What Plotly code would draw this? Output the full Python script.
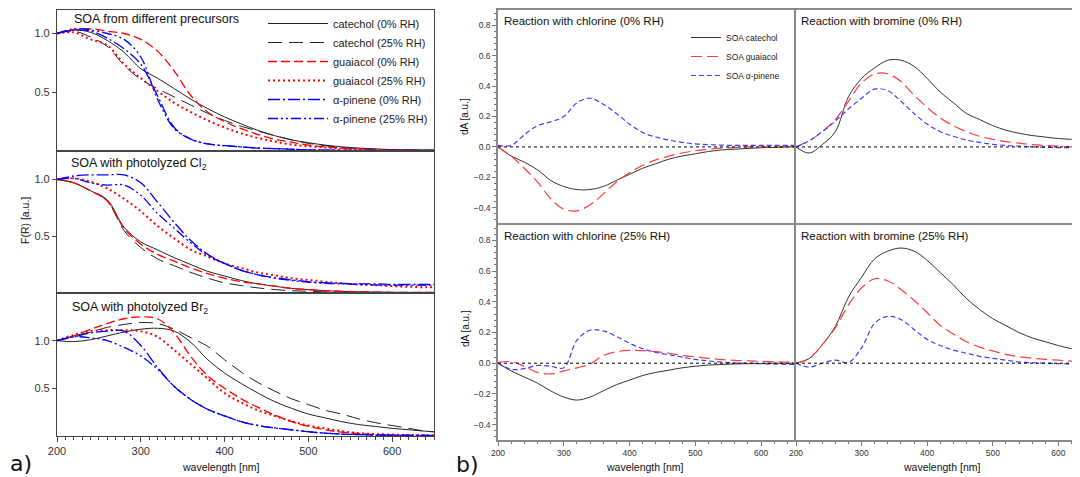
import plotly.graph_objects as go

# wavelength grid [nm]
wl = list(range(200, 661, 20))

# --- panel a: F(R) [a.u.] ---
names_a = ["catechol (0% RH)", "catechol (25% RH)", "guaiacol (0% RH)",
           "guaiacol (25% RH)", "α-pinene (0% RH)", "α-pinene (25% RH)"]

# SOA from different precursors
a1_cat0 = [1.00, 1.03, 1.01, 0.94, 0.84, 0.70, 0.62, 0.53, 0.44, 0.36, 0.29, 0.23, 0.175, 0.13, 0.095, 0.07, 0.05, 0.035, 0.025, 0.018, 0.012, 0.01, 0.008, 0.008]
a1_cat25 = [1.00, 1.02, 0.97, 0.89, 0.73, 0.61, 0.53, 0.46, 0.39, 0.32, 0.26, 0.21, 0.17, 0.13, 0.095, 0.065, 0.045, 0.03, 0.02, 0.015, 0.01, 0.008, 0.006, 0.006]
a1_gua0 = [1.00, 1.03, 1.04, 1.02, 1.00, 0.95, 0.85, 0.68, 0.47, 0.33, 0.25, 0.19, 0.14, 0.10, 0.075, 0.05, 0.035, 0.025, 0.018, 0.012, 0.008, 0.006, 0.005, 0.005]
a1_gua25 = [1.00, 1.01, 0.95, 0.90, 0.74, 0.62, 0.51, 0.41, 0.33, 0.26, 0.20, 0.15, 0.11, 0.08, 0.055, 0.04, 0.03, 0.02, 0.015, 0.01, 0.008, 0.006, 0.005, 0.005]
a1_ap0 = [1.00, 1.03, 1.02, 0.96, 0.87, 0.74, 0.47, 0.20, 0.10, 0.06, 0.045, 0.035, 0.025, 0.02, 0.015, 0.01, 0.008, 0.006, 0.005, 0.005, 0.005, 0.005, 0.005, 0.005]
a1_ap25 = [1.00, 1.04, 1.03, 1.00, 0.95, 0.80, 0.44, 0.19, 0.10, 0.06, 0.045, 0.035, 0.025, 0.02, 0.015, 0.01, 0.008, 0.006, 0.005, 0.005, 0.005, 0.005, 0.005, 0.005]

# SOA with photolyzed Cl2
a2_cat0 = [1.00, 0.97, 0.90, 0.82, 0.58, 0.45, 0.38, 0.31, 0.25, 0.19, 0.15, 0.11, 0.08, 0.06, 0.04, 0.03, 0.02, 0.015, 0.01, 0.008, 0.006, 0.005, 0.005, 0.005]
a2_cat25 = [1.00, 0.97, 0.90, 0.81, 0.55, 0.40, 0.30, 0.24, 0.18, 0.13, 0.09, 0.065, 0.045, 0.03, 0.02, 0.015, 0.01, 0.008, 0.006, 0.005, 0.005, 0.005, 0.005, 0.005]
a2_gua0 = [1.00, 0.97, 0.90, 0.81, 0.57, 0.43, 0.34, 0.28, 0.22, 0.17, 0.13, 0.10, 0.08, 0.06, 0.04, 0.03, 0.02, 0.015, 0.01, 0.008, 0.006, 0.005, 0.005, 0.005]
a2_gua25 = [1.00, 1.01, 0.98, 0.92, 0.83, 0.72, 0.59, 0.48, 0.38, 0.32, 0.26, 0.22, 0.18, 0.155, 0.13, 0.115, 0.10, 0.085, 0.075, 0.07, 0.06, 0.055, 0.05, 0.05]
a2_ap0 = [1.00, 1.03, 1.04, 1.04, 1.04, 0.97, 0.80, 0.62, 0.46, 0.34, 0.26, 0.20, 0.16, 0.135, 0.115, 0.10, 0.09, 0.085, 0.08, 0.08, 0.075, 0.075, 0.075, 0.075]
a2_ap25 = [1.00, 1.01, 0.97, 0.95, 0.95, 0.86, 0.70, 0.57, 0.44, 0.33, 0.26, 0.20, 0.16, 0.13, 0.11, 0.095, 0.085, 0.08, 0.075, 0.07, 0.07, 0.07, 0.07, 0.07]

# SOA with photolyzed Br2
a3_cat0 = [1.00, 0.99, 1.01, 1.05, 1.09, 1.12, 1.13, 1.10, 0.98, 0.80, 0.66, 0.55, 0.45, 0.36, 0.29, 0.23, 0.19, 0.15, 0.12, 0.10, 0.08, 0.065, 0.05, 0.04]
a3_cat25 = [1.00, 1.05, 1.09, 1.14, 1.17, 1.19, 1.18, 1.12, 1.03, 0.94, 0.80, 0.67, 0.56, 0.47, 0.39, 0.33, 0.27, 0.23, 0.18, 0.14, 0.11, 0.08, 0.05, 0.04]
a3_gua0 = [1.00, 1.05, 1.12, 1.18, 1.23, 1.25, 1.23, 1.08, 0.83, 0.63, 0.50, 0.39, 0.30, 0.22, 0.15, 0.10, 0.065, 0.04, 0.025, 0.015, 0.01, 0.008, 0.006, 0.005]
a3_gua25 = [1.00, 1.06, 1.10, 1.11, 1.11, 1.10, 1.04, 0.90, 0.75, 0.60, 0.45, 0.35, 0.27, 0.21, 0.155, 0.11, 0.08, 0.05, 0.03, 0.02, 0.015, 0.01, 0.008, 0.006]
a3_ap0 = [1.00, 1.04, 1.08, 1.10, 1.10, 0.95, 0.72, 0.52, 0.38, 0.28, 0.21, 0.15, 0.11, 0.085, 0.065, 0.045, 0.03, 0.02, 0.015, 0.01, 0.008, 0.006, 0.005, 0.005]
a3_ap25 = [1.00, 1.04, 1.03, 1.00, 0.93, 0.84, 0.70, 0.52, 0.38, 0.28, 0.21, 0.15, 0.11, 0.085, 0.065, 0.045, 0.03, 0.02, 0.015, 0.01, 0.008, 0.006, 0.005, 0.005]

# --- panel b: dA [a.u.] ---
names_b = ["SOA catechol", "SOA guaiacol", "SOA α-pinene"]

b_cl0_cat = [0, -0.06, -0.10, -0.15, -0.22, -0.26, -0.28, -0.28, -0.26, -0.22, -0.18, -0.14, -0.11, -0.08, -0.06, -0.045, -0.03, -0.02, -0.015, -0.01, -0.005, -0.003, 0, 0]
b_cl0_gua = [0, -0.06, -0.14, -0.23, -0.34, -0.41, -0.42, -0.38, -0.31, -0.23, -0.17, -0.12, -0.085, -0.06, -0.04, -0.025, -0.015, -0.008, -0.004, 0, 0, 0, 0, 0]
b_cl0_ap = [0.01, 0.01, 0.08, 0.14, 0.165, 0.20, 0.29, 0.32, 0.28, 0.22, 0.15, 0.095, 0.065, 0.045, 0.03, 0.02, 0.015, 0.012, 0.01, 0.01, 0.01, 0.01, 0.01, 0.01]

b_br0_cat = [0, -0.04, 0.015, 0.10, 0.33, 0.45, 0.52, 0.57, 0.57, 0.53, 0.45, 0.36, 0.29, 0.22, 0.18, 0.14, 0.11, 0.09, 0.075, 0.065, 0.055, 0.05, 0.045, 0.04]
b_br0_gua = [0, 0.04, 0.10, 0.18, 0.30, 0.42, 0.48, 0.48, 0.43, 0.34, 0.26, 0.19, 0.14, 0.10, 0.07, 0.05, 0.035, 0.025, 0.015, 0.01, 0.005, 0, 0, 0]
b_br0_ap = [0, 0.04, 0.10, 0.17, 0.25, 0.32, 0.38, 0.37, 0.30, 0.22, 0.15, 0.10, 0.07, 0.045, 0.03, 0.017, 0.01, 0.005, 0, -0.002, -0.005, -0.005, -0.005, -0.005]

b_cl25_cat = [0, -0.05, -0.09, -0.13, -0.18, -0.22, -0.24, -0.22, -0.18, -0.14, -0.11, -0.08, -0.06, -0.045, -0.03, -0.02, -0.012, -0.008, -0.005, -0.003, -0.002, 0, 0, 0]
b_cl25_gua = [0.005, 0.01, -0.02, -0.06, -0.07, -0.05, -0.03, -0.005, 0.05, 0.075, 0.083, 0.082, 0.075, 0.065, 0.05, 0.042, 0.032, 0.024, 0.018, 0.015, 0.012, 0.01, 0.008, 0.008]
b_cl25_ap = [0, -0.04, -0.035, -0.015, -0.02, -0.03, 0.15, 0.215, 0.21, 0.175, 0.13, 0.095, 0.07, 0.055, 0.04, 0.025, 0.015, 0.007, 0.002, 0, -0.003, -0.005, -0.008, -0.008]

b_br25_cat = [0, 0.03, 0.12, 0.24, 0.43, 0.56, 0.68, 0.73, 0.75, 0.73, 0.67, 0.59, 0.51, 0.42, 0.35, 0.29, 0.245, 0.20, 0.165, 0.14, 0.115, 0.095, 0.08, 0.07]
b_br25_gua = [0, 0.03, 0.12, 0.23, 0.38, 0.49, 0.55, 0.535, 0.48, 0.41, 0.33, 0.245, 0.19, 0.14, 0.105, 0.08, 0.058, 0.042, 0.032, 0.025, 0.02, 0.014, 0.011, 0.01]
b_br25_ap = [0, -0.025, 0.0, 0.02, 0.005, 0.10, 0.26, 0.305, 0.285, 0.22, 0.155, 0.115, 0.085, 0.065, 0.045, 0.032, 0.02, 0.008, 0.003, 0, -0.003, -0.004, -0.005, -0.005]

FONT = "Liberation Sans"
OFF = 8                      # page body margin of the browser
W, H = 1080 - OFF, 477 - OFF

# line styles
styles_a = [
    dict(color="#222", dash="solid", width=1),
    dict(color="#222", dash="14px,7px", width=1),
    dict(color="#ff0000", dash="9px,4px", width=1.3),
    dict(color="#ff0000", dash="2px,3px", width=2),
    dict(color="#0000ff", dash="12px,3px,2px,3px", width=1.3),
    dict(color="#0000ff", dash="10px,3px,2px,3px,2px,3px", width=1.3),
]
styles_b = [
    dict(color="#333", dash="solid", width=1),
    dict(color="rgb(255,60,60)", dash="11px,5px", width=1.2),
    dict(color="rgb(60,60,255)", dash="5px,3px", width=1.2),
]

fig = go.Figure()

panels_a = [
    ("", [a1_cat0, a1_cat25, a1_gua0, a1_gua25, a1_ap0, a1_ap25]),
    ("2", [a2_cat0, a2_cat25, a2_gua0, a2_gua25, a2_ap0, a2_ap25]),
    ("3", [a3_cat0, a3_cat25, a3_gua0, a3_gua25, a3_ap0, a3_ap25]),
]
for k, series in panels_a:
    for name, ys, st in zip(names_a, series, styles_a):
        fig.add_trace(go.Scatter(
            x=wl, y=ys, mode="lines", name=name, line=dict(shape="spline", **st),
            xaxis="x" + k, yaxis="y" + k, showlegend=(k == ""), legend="legend"))

panels_b = [
    ("4", [b_cl0_cat, b_cl0_gua, b_cl0_ap]),
    ("5", [b_br0_cat, b_br0_gua, b_br0_ap]),
    ("6", [b_cl25_cat, b_cl25_gua, b_cl25_ap]),
    ("7", [b_br25_cat, b_br25_gua, b_br25_ap]),
]
for k, series in panels_b:
    for name, ys, st in zip(names_b, series, styles_b):
        fig.add_trace(go.Scatter(
            x=wl, y=ys, mode="lines", name=name, line=dict(shape="spline", **st),
            xaxis="x" + k, yaxis="y" + k, showlegend=(k == "4"), legend="legend2"))


# screen pixel -> paper fraction
def px_x(p):
    return (p - OFF) / W


def px_y(p):
    return 1 - (p - OFF) / H


tick_font_a = dict(family=FONT, size=11, color="#333")
tick_font_b = dict(family=FONT, size=8.5, color="#333")
frame_a = dict(showline=True, linecolor="#444", linewidth=1.2, mirror=True,
               showgrid=False, zeroline=False)
frame_b = dict(showline=True, linecolor="#888", linewidth=1.5, mirror=True,
               showgrid=False, zeroline=False)

layout = dict(width=W, height=H,
              margin=dict(l=0, r=0, t=0, b=0, pad=0, autoexpand=False),
              plot_bgcolor="white", paper_bgcolor="white",
              font=dict(family=FONT, color="#222"))

# panel a axes
xa_dom = [px_x(57), px_x(434)]
ya_doms = {"": ([px_y(151), px_y(10)], [0, 1.2]),
           "2": ([px_y(293), px_y(151)], [0, 1.25]),
           "3": ([px_y(436), px_y(293)], [0, 1.5])}
for k, (dom, rng) in ya_doms.items():
    bottom = (k == "3")
    layout["xaxis" + k] = dict(domain=xa_dom, range=[200, 650], anchor="y" + k,
                               showticklabels=bottom, ticks="outside" if bottom else "",
                               tick0=200, dtick=100, ticklen=5, tickcolor="#444",
                               tickfont=tick_font_a,
                               minor=dict(dtick=10, ticks="outside" if bottom else "",
                                          ticklen=3, tickcolor="#444"),
                               **frame_a)
    layout["yaxis" + k] = dict(domain=dom, range=rng, anchor="x" + k,
                               tickvals=[0.5, 1.0], ticktext=["0.5", "1.0"],
                               ticks="outside", ticklen=4, tickcolor="#444",
                               tickfont=tick_font_a, **frame_a)

# panel b axes
xb_doms = {"4": [px_x(498), px_x(794)], "6": [px_x(498), px_x(794)],
           "5": [px_x(796), 1.0], "7": [px_x(796), 1.0]}
yb_doms = {"4": [px_y(223), px_y(10)], "5": [px_y(223), px_y(10)],
           "6": [px_y(440), px_y(225)], "7": [px_y(440), px_y(225)]}
for k in ["4", "5", "6", "7"]:
    bottom = k in ("6", "7")
    left = k in ("4", "6")
    xr = [200, 650] if left else [200, 633]
    layout["xaxis" + k] = dict(domain=xb_doms[k], range=xr, anchor="y" + k,
                               showticklabels=bottom, ticks="outside" if bottom else "",
                               tick0=200, dtick=100, ticklen=4, tickcolor="#777",
                               tickfont=tick_font_b,
                               minor=dict(dtick=20, ticks="outside" if bottom else "",
                                          ticklen=2, tickcolor="#777"),
                               **frame_b)
    yfr = dict(frame_b)
    if not left:
        yfr["mirror"] = False
    layout["yaxis" + k] = dict(domain=yb_doms[k], range=[-0.5, 0.9], anchor="x" + k,
                               showticklabels=left, ticks="outside" if left else "",
                               tick0=0, dtick=0.2, tickformat=".1f", ticklen=4,
                               tickcolor="#777", tickfont=tick_font_b,
                               minor=dict(dtick=0.04, ticks="outside" if left else "",
                                          ticklen=2, tickcolor="#777"),
                               **yfr)

layout["legend"] = dict(x=px_x(263), y=px_y(9), xanchor="left", yanchor="top",
                        bgcolor="rgba(0,0,0,0)", tracegroupgap=0, itemwidth=60,
                        font=dict(family=FONT, size=11, color="#222"))
layout["legend2"] = dict(x=px_x(686), y=px_y(23), xanchor="left", yanchor="top",
                         bgcolor="rgba(0,0,0,0)", tracegroupgap=0,
                         font=dict(family=FONT, size=8.5, color="#222"))

fig.update_layout(**layout)

# dotted zero lines in panel b
for k in ["4", "5", "6", "7"]:
    fig.add_shape(type="line", xref="x" + k + " domain", yref="y" + k,
                  x0=0, x1=1, y0=0, y1=0,
                  line=dict(color="black", width=1, dash="dot"))


def note(text, x, y, size, xanchor="left", angle=0, family=FONT):
    fig.add_annotation(text=text, x=px_x(x), y=px_y(y), xref="paper", yref="paper",
                       xanchor=xanchor, yanchor="middle", showarrow=False,
                       textangle=angle, font=dict(family=family, size=size, color="#111"))


note("SOA from different precursors", 72, 19, 12.5)
note("SOA with photolyzed Cl<sub>2</sub>", 69, 164, 12.5)
note("SOA with photolyzed Br<sub>2</sub>", 70, 308, 12.5)
note("Reaction with chlorine (0% RH)", 502, 21, 11.5)
note("Reaction with bromine (0% RH)", 799, 21, 11.5)
note("Reaction with chlorine (25% RH)", 502, 236, 11.5)
note("Reaction with bromine (25% RH)", 799, 236, 11.5)
note("wavelength [nm]", 221, 467, 10.5, xanchor="center")
note("wavelength [nm]", 645, 467, 10.5, xanchor="center")
note("wavelength [nm]", 942, 467, 10.5, xanchor="center")
note("F(R) [a.u.]", 25, 221, 10.5, xanchor="center", angle=-90)
note("dA [a.u.]", 465, 117, 10, xanchor="center", angle=-90)
note("dA [a.u.]", 465, 329, 10, xanchor="center", angle=-90)
note("a)", 21, 463, 22, xanchor="center", family="DejaVu Sans")
note("b)", 467, 464, 22, xanchor="center", family="DejaVu Sans")

fig.write_html("out.html")
